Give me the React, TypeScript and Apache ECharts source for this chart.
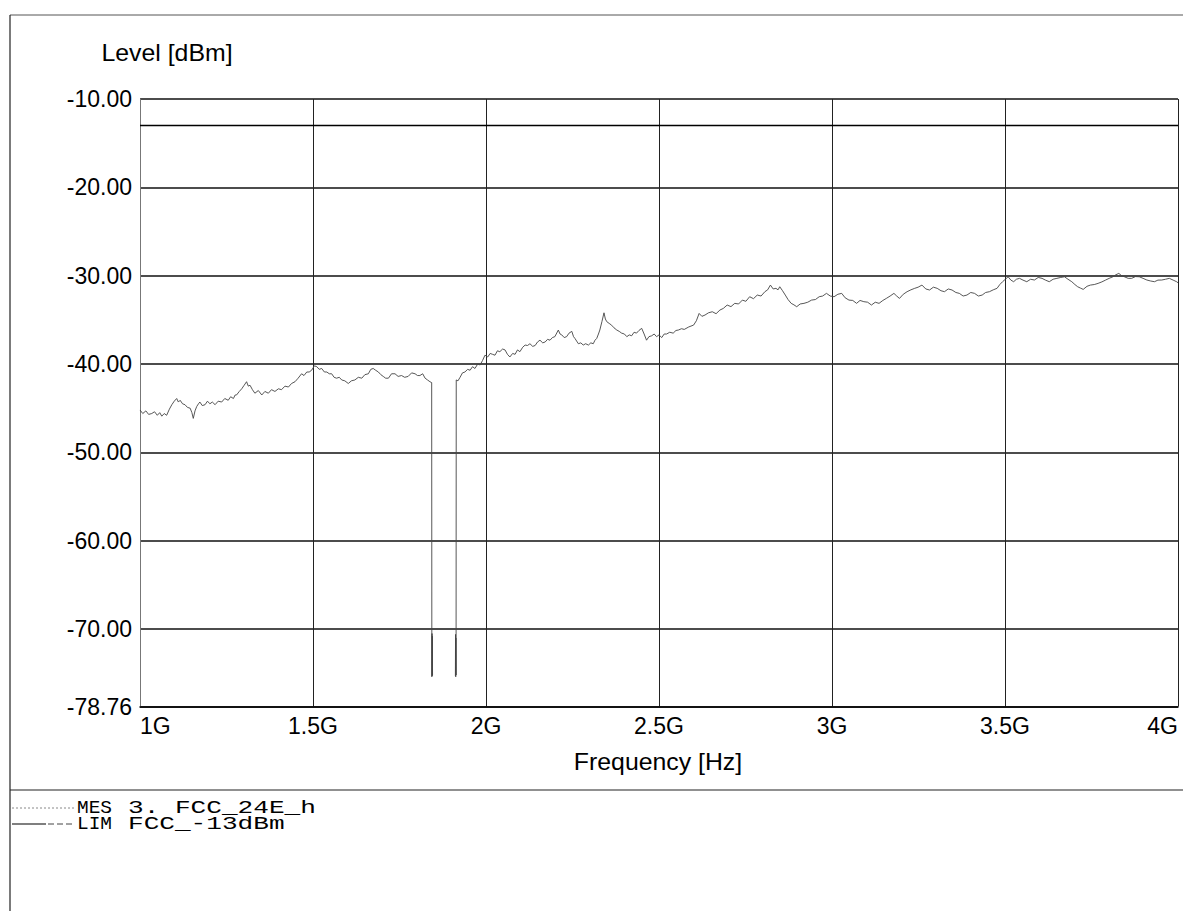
import React, { useEffect, useRef } from "react";
import * as echarts from "echarts";

// Tick labels
const xTickValues = [1, 1.5, 2, 2.5, 3, 3.5, 4]; // GHz
const yTickValues = [-78.76, -70, -60, -50, -40, -30, -20, -10]; // dBm

// Limit line (FCC -13 dBm)
const limFreq = [1, 4];
const limLevel = [-13, -13];

// Measured trace (GHz, dBm); null = gap (notch region)
const mesFreq = [
  1.000, 1.008, 1.017, 1.025, 1.034, 1.042, 1.050, 1.057, 1.063, 1.070, 1.077, 1.085, 1.092, 1.099, 1.106, 1.111,
  1.116, 1.123, 1.130, 1.137, 1.145, 1.150, 1.154, 1.159, 1.164, 1.169, 1.173, 1.180, 1.188, 1.195, 1.202, 1.209,
  1.217, 1.226, 1.236, 1.245, 1.255, 1.262, 1.270, 1.275, 1.279, 1.287, 1.294, 1.301, 1.308, 1.313, 1.318, 1.325,
  1.332, 1.342, 1.352, 1.361, 1.371, 1.380, 1.390, 1.400, 1.409, 1.419, 1.429, 1.438, 1.448, 1.457, 1.467, 1.474,
  1.482, 1.489, 1.496, 1.504, 1.511, 1.518, 1.525, 1.533, 1.540, 1.547, 1.554, 1.561, 1.568, 1.576, 1.583, 1.592,
  1.602, 1.611, 1.621, 1.631, 1.641, 1.650, 1.660, 1.667, 1.674, 1.681, 1.689, 1.696, 1.703, 1.710, 1.718, 1.727,
  1.737, 1.746, 1.756, 1.765, 1.775, 1.785, 1.795, 1.802, 1.809, 1.817, 1.824, 1.831, 1.838, 1.843,
  1.8435, 1.8440, 1.8445, 1.8450, 1.8455, 1.846,
  1.911, 1.9115, 1.9120, 1.9125, 1.9130, 1.9135,
  1.914, 1.919, 1.925, 1.932, 1.939, 1.947, 1.954, 1.961, 1.968, 1.976, 1.983, 1.990, 1.997, 2.005, 2.012, 2.019,
  2.026, 2.033, 2.040, 2.048, 2.055, 2.062, 2.069, 2.077, 2.084, 2.091, 2.098, 2.106, 2.113, 2.120, 2.127, 2.135,
  2.142, 2.149, 2.156, 2.164, 2.171, 2.178, 2.185, 2.192, 2.199, 2.209, 2.214, 2.219, 2.226, 2.233, 2.240, 2.248,
  2.253, 2.257, 2.262, 2.267, 2.274, 2.281, 2.288, 2.296, 2.303, 2.310, 2.315, 2.320, 2.325, 2.329, 2.335, 2.341,
  2.345, 2.349, 2.356, 2.363, 2.370, 2.378, 2.385, 2.392, 2.400, 2.407, 2.414, 2.421, 2.428, 2.435, 2.442, 2.450,
  2.457, 2.464, 2.471, 2.479, 2.486, 2.493, 2.500, 2.508, 2.515, 2.522, 2.531, 2.541, 2.549, 2.556, 2.565, 2.573,
  2.586, 2.600, 2.608, 2.616, 2.624, 2.633, 2.643, 2.654, 2.665, 2.676, 2.686, 2.697, 2.708, 2.719, 2.730, 2.741,
  2.751, 2.762, 2.773, 2.784, 2.795, 2.806, 2.814, 2.822, 2.830, 2.838, 2.844, 2.849, 2.857, 2.865, 2.873, 2.882,
  2.890, 2.898, 2.908, 2.919, 2.930, 2.941, 2.952, 2.963, 2.973, 2.984, 2.995, 3.006, 3.017, 3.028, 3.038, 3.049,
  3.060, 3.071, 3.081, 3.092, 3.103, 3.114, 3.125, 3.136, 3.147, 3.157, 3.168, 3.179, 3.187, 3.195, 3.206, 3.217,
  3.228, 3.239, 3.249, 3.260, 3.271, 3.282, 3.293, 3.304, 3.315, 3.325, 3.336, 3.347, 3.358, 3.368, 3.379, 3.390,
  3.401, 3.412, 3.423, 3.434, 3.444, 3.455, 3.466, 3.477, 3.485, 3.493, 3.501, 3.509, 3.517, 3.525, 3.533, 3.542,
  3.552, 3.563, 3.574, 3.585, 3.596, 3.607, 3.617, 3.628, 3.639, 3.650, 3.661, 3.672, 3.682, 3.693, 3.702, 3.710,
  3.718, 3.726, 3.737, 3.747, 3.758, 3.769, 3.780, 3.791, 3.801, 3.812, 3.820, 3.829, 3.837, 3.845, 3.856, 3.866,
  3.877, 3.888, 3.899, 3.910, 3.921, 3.932, 3.942, 3.953, 3.964, 3.975, 3.986, 3.996, 4.000,
];
const mesLevel: (number | null)[] = [
  -45.2, -45.6, -45.3, -45.7, -45.6, -45.4, -45.8, -45.5, -45.9, -45.6, -45.8, -45.1, -44.6, -44.2, -43.9, -44.3,
  -44.1, -44.5, -44.6, -44.9, -45.0, -45.5, -46.15, -45.3, -44.8, -44.5, -44.3, -44.7, -44.6, -44.2, -44.5, -44.3,
  -44.6, -44.2, -44.3, -43.9, -44.1, -43.7, -43.9, -43.5, -43.5, -43.1, -42.8, -42.4, -42.0, -42.5, -42.4, -42.9,
  -43.3, -43.0, -43.5, -43.1, -43.3, -42.9, -43.1, -42.8, -42.9, -42.5, -42.6, -42.2, -42.0, -41.6, -41.1, -41.3,
  -40.9, -40.9, -40.7, -40.2, -40.3, -40.6, -40.5, -40.9, -40.9, -41.1, -41.1, -41.5, -41.6, -41.5, -41.8, -41.9,
  -42.2, -41.9, -41.8, -41.5, -41.6, -41.2, -41.1, -40.6, -40.5, -40.7, -40.9, -41.2, -41.4, -41.6, -41.6, -41.1,
  -41.1, -41.4, -41.3, -41.5, -41.4, -41.0, -41.1, -41.3, -41.3, -41.1, -41.6, -41.8, -42.0, -42.1,
  -75.4, -70.5, -75.3, -70.8, -75.2, null,
  null, -75.3, -70.6, -75.4, -71.0, -75.2,
  -41.8, -41.9, -41.5, -41.0, -40.9, -40.6, -40.7, -40.3, -40.5, -40.0, -40.1, -39.6, -39.0, -39.2, -38.8, -38.9,
  -39.0, -38.5, -38.6, -38.3, -38.4, -38.9, -39.2, -38.8, -38.9, -38.4, -38.6, -38.1, -37.85, -37.9, -37.7, -38.0,
  -37.9, -37.5, -37.3, -37.6, -37.5, -37.2, -37.3, -37.0, -36.9, -36.15, -36.6, -36.7, -37.0, -36.9, -36.5, -36.3,
  -36.9, -37.1, -37.4, -37.7, -37.6, -37.85, -37.7, -37.85, -37.6, -37.7, -37.3, -37.1, -36.6, -36.15, -35.2, -34.2,
  -34.9, -35.2, -35.4, -35.6, -35.9, -36.15, -36.3, -36.5, -36.6, -36.9, -36.7, -36.8, -36.4, -36.5, -36.2, -35.96,
  -36.6, -37.3, -36.9, -36.8, -36.6, -36.9, -36.7, -37.0, -36.6, -36.6, -36.4, -36.5, -36.2, -36.15, -36.0, -36.08,
  -35.8, -35.59, -35.1, -34.27, -34.6, -34.45, -34.2, -34.08, -34.3, -33.89, -33.7, -33.32, -33.5, -33.13, -33.2, -32.76,
  -32.9, -32.38, -32.6, -32.19, -32.3, -31.81, -31.6, -31.06, -31.5, -31.43, -31.6, -31.25, -31.7, -32.19, -32.7, -33.13,
  -33.3, -33.51, -33.2, -33.13, -33.0, -32.76, -32.7, -32.38, -32.3, -32.0, -32.3, -32.38, -32.1, -32.0, -32.5, -32.76,
  -32.8, -33.13, -32.8, -32.94, -33.0, -33.32, -33.0, -33.13, -32.8, -32.57, -32.3, -32.0, -32.3, -32.57, -32.1, -31.81,
  -31.6, -31.43, -31.3, -31.06, -31.5, -31.62, -31.3, -31.43, -31.7, -31.81, -31.5, -31.62, -31.9, -32.0, -32.3, -32.19,
  -31.9, -32.0, -32.3, -32.19, -31.9, -31.81, -31.6, -31.43, -31.0, -30.68, -30.4, -30.12, -30.5, -30.68, -30.4, -30.3,
  -30.5, -30.68, -30.4, -30.49, -30.2, -30.3, -30.5, -30.68, -30.4, -30.3, -30.2, -30.12, -30.4, -30.68, -31.0, -31.25,
  -31.4, -31.55, -31.2, -31.06, -31.0, -30.87, -30.7, -30.49, -30.3, -30.12, -29.9, -29.74, -30.0, -30.12, -30.3, -30.3,
  -30.1, -30.12, -30.3, -30.49, -30.6, -30.68, -30.5, -30.49, -30.4, -30.3, -30.5, -30.68, -30.8,
];

const FONT = '"Liberation Sans", Arial, Helvetica, sans-serif';
const MONO = '"Liberation Mono", "Courier New", monospace';

export default function App() {
  const ref = useRef<HTMLDivElement>(null);

  useEffect(() => {
    if (!ref.current) return;
    const chart = echarts.init(ref.current, null, { renderer: "svg" });

    const mesData = mesFreq.map((f, i) => [f, mesLevel[i]]);
    const limData = limFreq.map((f, i) => [f, limLevel[i]]);

    chart.setOption({
      animation: false,
      backgroundColor: "#ffffff",
      grid: { left: 140, top: 99, width: 1038, height: 607.5, containLabel: false },
      xAxis: {
        type: "value",
        min: 1,
        max: 4,
        interval: 0.5,
        axisLine: { show: true, lineStyle: { color: "#000", width: 1.5 } },
        axisTick: { show: false },
        splitLine: { show: true, lineStyle: { color: "#222", width: 1 } },
        axisLabel: {
          show: true,
          customValues: xTickValues,
          formatter: (v: number) => `${v}G`,
          color: "#000",
          fontFamily: FONT,
          fontSize: 23,
          margin: 8,
          alignMinLabel: "left",
          alignMaxLabel: "right",
        },
      },
      yAxis: {
        type: "value",
        min: -78.76,
        max: -10,
        splitNumber: 7,
        axisLine: { show: true, lineStyle: { color: "#777", width: 1 } },
        axisTick: { show: false, customValues: yTickValues },
        splitLine: { show: true, lineStyle: { color: "#111", width: 1.5 } },
        axisLabel: {
          show: true,
          customValues: yTickValues,
          formatter: (v: number) => v.toFixed(2),
          color: "#000",
          fontFamily: FONT,
          fontSize: 23,
          margin: 8,
        },
      },
      series: [
        {
          name: "LIM",
          type: "line",
          data: limData,
          showSymbol: false,
          symbol: "none",
          silent: true,
          lineStyle: { color: "#000", width: 1.5 },
          z: 3,
        },
        {
          name: "MES",
          type: "line",
          data: mesData,
          showSymbol: false,
          symbol: "none",
          connectNulls: false,
          silent: true,
          lineStyle: { color: "#444", width: 0.9 },
          z: 4,
        },
      ],
      graphic: [
        // page frame
        { type: "line", shape: { x1: 10, y1: 15, x2: 1183, y2: 15 }, style: { stroke: "#555", lineWidth: 1 } },
        { type: "line", shape: { x1: 10, y1: 15, x2: 10, y2: 911 }, style: { stroke: "#222", lineWidth: 1.2 } },
        { type: "line", shape: { x1: 10, y1: 790, x2: 1183, y2: 790 }, style: { stroke: "#222", lineWidth: 1.2 } },
        // axis names
        {
          type: "text",
          x: 167,
          y: 53,
          scaleX: 1.08,
          originX: 0,
          style: { text: "Level [dBm]", fill: "#000", font: `23px ${FONT}`, align: "center", verticalAlign: "middle" },
        },
        {
          type: "text",
          x: 658,
          y: 762,
          scaleX: 1.08,
          style: { text: "Frequency [Hz]", fill: "#000", font: `23px ${FONT}`, align: "center", verticalAlign: "middle" },
        },
        // legend row 1 (MES)
        { type: "line", shape: { x1: 12, y1: 808, x2: 74, y2: 808 }, style: { stroke: "#888", lineWidth: 1, lineDash: [2, 2] } },
        {
          type: "text",
          x: 77,
          y: 808.5,
          scaleX: 1.08,
          style: { text: "MES", fill: "#000", font: `18px ${MONO}`, align: "left", verticalAlign: "middle" },
        },
        {
          type: "text",
          x: 128,
          y: 808.5,
          scaleX: 1.45,
          style: { text: "3. FCC_24E_h", fill: "#000", font: `18px ${MONO}`, align: "left", verticalAlign: "middle" },
        },
        // legend row 2 (LIM)
        { type: "line", shape: { x1: 12, y1: 824, x2: 46, y2: 824 }, style: { stroke: "#000", lineWidth: 1.2 } },
        { type: "line", shape: { x1: 48, y1: 824, x2: 74, y2: 824 }, style: { stroke: "#444", lineWidth: 1, lineDash: [6, 3] } },
        {
          type: "text",
          x: 77,
          y: 824.5,
          scaleX: 1.08,
          style: { text: "LIM", fill: "#000", font: `18px ${MONO}`, align: "left", verticalAlign: "middle" },
        },
        {
          type: "text",
          x: 128,
          y: 824.5,
          scaleX: 1.45,
          style: { text: "FCC_-13dBm", fill: "#000", font: `18px ${MONO}`, align: "left", verticalAlign: "middle" },
        },
      ],
    });

    return () => chart.dispose();
  }, []);

  return (
    <div
      ref={ref}
      style={{ position: "fixed", left: 0, top: 0, width: 1183, height: 911, background: "#fff" }}
    />
  );
}
